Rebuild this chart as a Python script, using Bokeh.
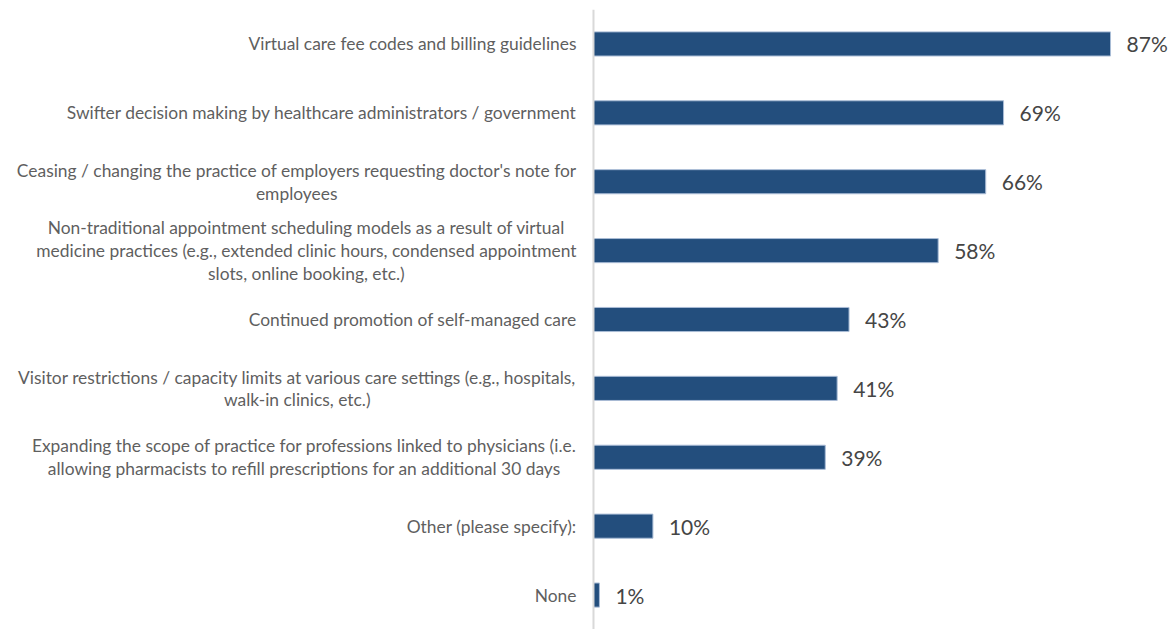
from bokeh.plotting import figure
from bokeh.models import ColumnDataSource, Range1d, FactorRange, Span
from bokeh.core.properties import value
from bokeh.embed import file_html
from bokeh.resources import INLINE

categories = [
    "Virtual care fee codes and billing guidelines",
    "Swifter decision making by healthcare administrators / government",
    "Ceasing / changing the practice of employers requesting doctor's note for\nemployees",
    "Non-traditional appointment scheduling models as a result of virtual\nmedicine practices (e.g., extended clinic hours, condensed appointment\nslots, online booking, etc.)",
    "Continued promotion of self-managed care",
    "Visitor restrictions / capacity limits at various care settings (e.g., hospitals,\nwalk-in clinics, etc.)",
    "Expanding the scope of practice for professions linked to physicians (i.e.\nallowing pharmacists to refill prescriptions for an additional 30 days",
    "Other (please specify):",
    "None",
]
values = [87, 69, 66, 58, 43, 41, 39, 10, 1]
value_labels = [f"{v}%" for v in values]

src = ColumnDataSource(dict(cat=categories, val=values, lab=value_labels,
                            zero=[0] * len(values)))

p = figure(width=1171, height=629, output_backend="svg", toolbar_location=None,
           y_range=FactorRange(factors=list(reversed(categories))),
           x_range=Range1d(-99.78, 97.26),
           min_border_left=0, min_border_right=0, min_border_top=9, min_border_bottom=0)
p.outline_line_color = None
p.xaxis.visible = False
p.yaxis.visible = False
p.xgrid.visible = False
p.ygrid.visible = False

p.hbar(y="cat", left=0, right="val", height=0.35, source=src,
       fill_color="#234E7D", line_color="#A9BCD6", line_width=1)

p.add_layout(Span(location=0, dimension="height", line_color="#D9D9D9", line_width=2))

p.text(x="zero", y="cat", text="cat", source=src, x_offset=-17,
       text_align="center", anchor="center_right", text_baseline="middle",
       text_font=value("Lato"), text_font_size="17.4px", text_color="#5F5F5F",
       text_line_height=1.08)

p.text(x="val", y="cat", text="lab", source=src, x_offset=16,
       text_align="left", text_baseline="middle",
       text_font=value("Lato"), text_font_size="21px", text_color="#454545")

open("out.html", "w").write(file_html(p, INLINE))
